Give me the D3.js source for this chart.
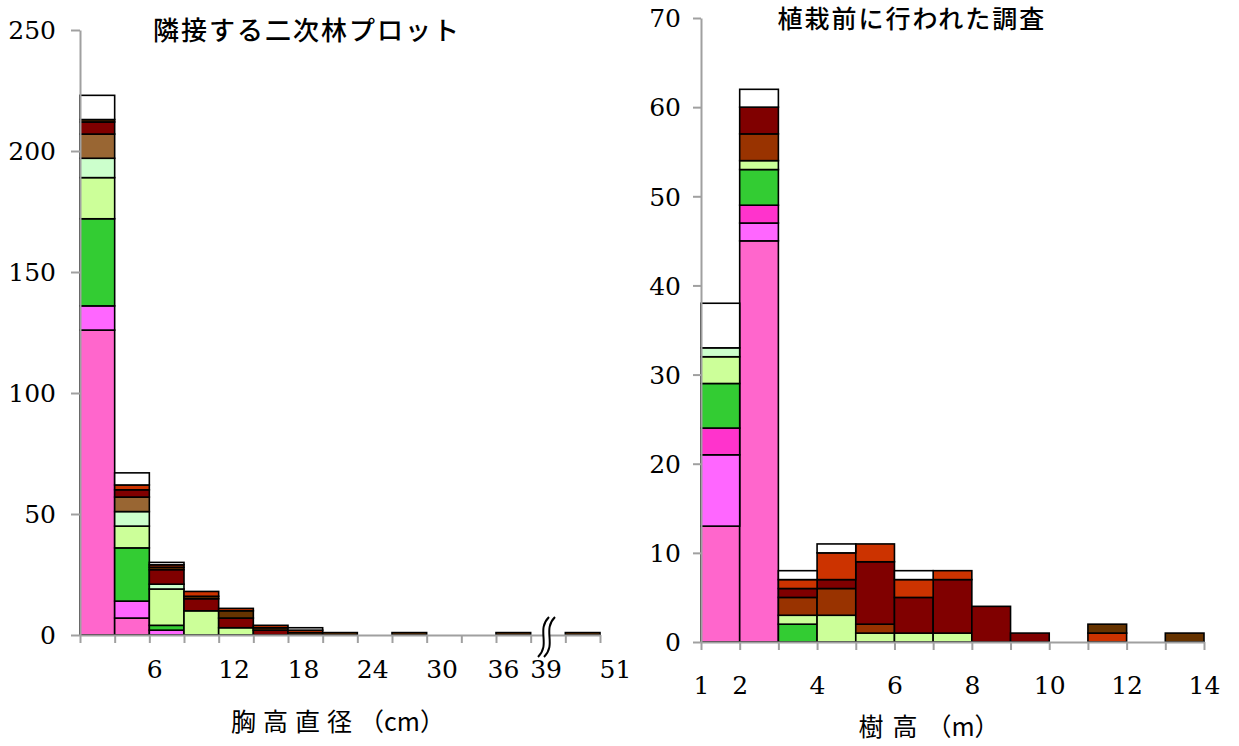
<!DOCTYPE html>
<html>
<head>
<meta charset="utf-8">
<script src="https://cdn.jsdelivr.net/npm/d3@7/dist/d3.min.js"></script>
<style>
  html, body { margin: 0; padding: 0; background: #fff; }
  svg { display: block; }
</style>
</head>
<body>
<svg id="chart" width="1239" height="746"></svg>
<script>
// ---------- DATA: left panel (DBH, cm) ----------
const dbhBinStart = [0, 3, 6, 9, 12, 15, 18, 21, 24, 27, 30, 33, 36, 39, 48];
const dbhBinEnd   = [3, 6, 9, 12, 15, 18, 21, 24, 27, 30, 33, 36, 39, 48, 51];
const dbhTickLabels = [6, 12, 18, 24, 30, 36, 39, 51];
const dbhYTicks = [0, 50, 100, 150, 200, 250];
const dbhPink        = [126, 7, 0, 0, 0, 0, 0, 0, 0, 0, 0, 0, 0, 0, 0];
const dbhMagenta     = [10, 7, 2, 0, 0, 0, 0, 0, 0, 0, 0, 0, 0, 0, 0];
const dbhGreen       = [36, 22, 2, 0, 0, 0, 0, 0, 0, 0, 0, 0, 0, 0, 0];
const dbhYellowGreen = [17, 9, 15, 10, 3, 0, 0, 0, 0, 0, 0, 0, 0, 0, 0];
const dbhPaleGreen   = [8, 6, 2, 0, 0, 0, 0, 0, 0, 0, 0, 0, 0, 0, 0];
const dbhBrown       = [10, 6, 0, 0, 0, 0, 0, 0, 0, 0, 0, 0, 0, 0, 0];
const dbhDarkRed     = [5, 3, 6, 5, 4, 2, 0, 0, 0, 0, 0, 0, 0, 0, 0];
const dbhDarkBrown   = [1, 0, 1, 1, 3, 1, 1, 1, 0, 1, 0, 0, 1, 0, 1];
const dbhOrangeRed   = [0, 2, 1, 2, 1, 1, 1, 0, 0, 0, 0, 0, 0, 0, 0];
const dbhWhite       = [10, 5, 1, 0, 0, 0, 1, 0, 0, 0, 0, 0, 0, 0, 0];

// ---------- DATA: right panel (tree height, m) ----------
const htBinStart = [1, 2, 3, 4, 5, 6, 7, 8, 9, 10, 11, 12, 13];
const htBinEnd   = [2, 3, 4, 5, 6, 7, 8, 9, 10, 11, 12, 13, 14];
const htTickLabels = [1, 2, 4, 6, 8, 10, 12, 14];
const htYTicks = [0, 10, 20, 30, 40, 50, 60, 70];
const htPink        = [13, 45, 0, 0, 0, 0, 0, 0, 0, 0, 0, 0, 0];
const htMagenta     = [8, 2, 0, 0, 0, 0, 0, 0, 0, 0, 0, 0, 0];
const htHotPink     = [3, 2, 0, 0, 0, 0, 0, 0, 0, 0, 0, 0, 0];
const htGreen       = [5, 4, 2, 0, 0, 0, 0, 0, 0, 0, 0, 0, 0];
const htYellowGreen = [3, 1, 1, 3, 1, 1, 1, 0, 0, 0, 0, 0, 0];
const htPaleGreen   = [1, 0, 0, 0, 0, 0, 0, 0, 0, 0, 0, 0, 0];
const htRust        = [0, 3, 2, 3, 1, 0, 0, 0, 0, 0, 0, 0, 0];
const htDarkRed     = [0, 3, 1, 1, 7, 4, 6, 4, 1, 0, 0, 0, 0];
const htOrangeRed   = [0, 0, 1, 3, 2, 2, 1, 0, 0, 0, 1, 0, 0];
const htDarkBrown   = [0, 0, 0, 0, 0, 0, 0, 0, 0, 0, 1, 0, 1];
const htWhite       = [5, 2, 1, 1, 0, 1, 0, 0, 0, 0, 0, 0, 0];

const colors = {
  pink: "#FF66CC", magenta: "#FF66FF", hotPink: "#FF33CC", green: "#33CC33",
  yellowGreen: "#CCFF99", paleGreen: "#CCFFCC", brown: "#996633", rust: "#993300",
  darkRed: "#800000", darkBrown: "#663300", orangeRed: "#CC3300", white: "#FFFFFF"
};

// ---------- build tables ----------
const leftSeries = {
  pink: dbhPink, magenta: dbhMagenta, green: dbhGreen, yellowGreen: dbhYellowGreen,
  paleGreen: dbhPaleGreen, brown: dbhBrown, darkRed: dbhDarkRed,
  darkBrown: dbhDarkBrown, orangeRed: dbhOrangeRed, white: dbhWhite
};
const rightSeries = {
  pink: htPink, magenta: htMagenta, hotPink: htHotPink, green: htGreen,
  yellowGreen: htYellowGreen, paleGreen: htPaleGreen, rust: htRust,
  darkRed: htDarkRed, orangeRed: htOrangeRed, darkBrown: htDarkBrown, white: htWhite
};
function makeRows(starts, ends, series) {
  return starts.map((s, i) => {
    const r = { start: s, end: ends[i] };
    Object.keys(series).forEach(k => r[k] = series[k][i]);
    return r;
  });
}
const leftRows = makeRows(dbhBinStart, dbhBinEnd, leftSeries);
const rightRows = makeRows(htBinStart, htBinEnd, rightSeries);

const svg = d3.select("#chart");
const NUM_FONT = "'DejaVu Serif', 'Liberation Serif', serif";
const JP_FONT = "'Noto Sans CJK JP', 'Noto Sans CJK SC', sans-serif";
const AXIS_GRAY = "#a0a0a0";

function drawStack(g, rows, keys, x, y) {
  const stacked = d3.stack().keys(keys)(rows);
  stacked.forEach(layer => {
    g.append("g").selectAll("rect")
      .data(layer.filter(d => d[1] - d[0] > 0))
      .join("rect")
      .attr("x", d => x(d.data.start))
      .attr("width", d => x(d.data.end) - x(d.data.start))
      .attr("y", d => y(d[1]))
      .attr("height", d => y(d[0]) - y(d[1]))
      .attr("fill", colors[layer.key])
      .attr("stroke", "#000")
      .attr("stroke-width", 1.6);
  });
}

function styleAxis(ax) {
  ax.attr("font-size", null).attr("font-family", null);
  ax.select(".domain").attr("stroke", AXIS_GRAY).attr("stroke-width", 2);
  ax.selectAll(".tick line").attr("stroke", AXIS_GRAY).attr("stroke-width", 2);
  ax.selectAll("text").attr("fill", "#000")
    .attr("font-family", NUM_FONT).attr("font-size", 25)
    .style("font-family", NUM_FONT).style("font-size", "25px");
}

// ---------- LEFT PANEL ----------
const L = { x0: 80, x1: 600, y0: 635, y1: 30 };
const slotW = (L.x1 - L.x0) / dbhBinStart.length;
const xL = d3.scaleLinear()
  .domain([0, 39, 48, 51])
  .range([L.x0, L.x0 + 13 * slotW, L.x0 + 14 * slotW, L.x1]);
const yL = d3.scaleLinear().domain([0, 250]).range([L.y0, L.y1]);

drawStack(svg.append("g"), leftRows, Object.keys(leftSeries), xL, yL);

const dbhEdges = dbhBinStart.concat([dbhBinEnd[dbhBinEnd.length - 1]]);
const axLx = svg.append("g").attr("transform", `translate(0,${L.y0})`)
  .call(d3.axisBottom(xL).tickValues(dbhEdges).tickSize(8).tickSizeOuter(0)
    .tickFormat(d => dbhTickLabels.includes(d) ? d : ""));
styleAxis(axLx);
axLx.selectAll("text").attr("y", 43).attr("dy", 0).attr("text-anchor", "start")
  .attr("dx", d => d === 36 ? -9 : (d === 6 ? -3 : -1));

const axLy = svg.append("g").attr("transform", `translate(${L.x0},0)`)
  .call(d3.axisLeft(yL).tickValues(dbhYTicks).tickSize(9).tickSizeOuter(0));
styleAxis(axLy);
axLy.selectAll("text").attr("x", -24).attr("dy", "0.35em");

// axis break symbol
const bx = xL(43.5);
const wave = (x) => `M${x + 6},617 C${x - 7},630 ${x + 8},644 ${x - 5},657`;
svg.append("path")
  .attr("d", `M${bx + 1},617 C${bx - 12},630 ${bx + 3},644 ${bx - 10},657 L${bx - 4},657 C${bx + 9},644 ${bx - 6},630 ${bx + 7},617 Z`)
  .attr("fill", "#fff");
svg.append("path").attr("d", wave(bx - 5)).attr("fill", "none").attr("stroke", "#000").attr("stroke-width", 2);
svg.append("path").attr("d", wave(bx + 1)).attr("fill", "none").attr("stroke", "#000").attr("stroke-width", 2);

svg.append("text").attr("x", 307).attr("y", 40).attr("text-anchor", "middle")
  .style("font-family", JP_FONT).style("font-size", "26px").style("font-weight", 500)
  .style("letter-spacing", "2px").text("隣接する二次林プロット");

const tL = svg.append("text").attr("x", 338).attr("y", 731).attr("text-anchor", "middle")
  .style("font-family", JP_FONT).style("font-size", "25px");
tL.append("tspan").style("letter-spacing", "7px").text("胸高直径");
tL.append("tspan").text("（cm）");

// ---------- RIGHT PANEL ----------
const R = { x0: 701, x1: 1204, y0: 642, y1: 18 };
const xR = d3.scaleLinear().domain([1, 14]).range([R.x0, R.x1]);
const yR = d3.scaleLinear().domain([0, 70]).range([R.y0, R.y1]);

drawStack(svg.append("g"), rightRows, Object.keys(rightSeries), xR, yR);

const htEdges = htBinStart.concat([htBinEnd[htBinEnd.length - 1]]);
const axRx = svg.append("g").attr("transform", `translate(0,${R.y0})`)
  .call(d3.axisBottom(xR).tickValues(htEdges).tickSize(8).tickSizeOuter(0)
    .tickFormat(d => htTickLabels.includes(d) ? d : ""));
styleAxis(axRx);
axRx.selectAll("text").attr("y", 52).attr("dy", 0);

const axRy = svg.append("g").attr("transform", `translate(${R.x0},0)`)
  .call(d3.axisLeft(yR).tickValues(htYTicks).tickSize(8).tickSizeOuter(0));
styleAxis(axRy);
axRy.selectAll("text").attr("x", -20).attr("dy", "0.35em");

svg.append("text").attr("x", 912).attr("y", 28).attr("text-anchor", "middle")
  .style("font-family", JP_FONT).style("font-size", "25px").style("font-weight", 500)
  .style("letter-spacing", "2px").text("植栽前に行われた調査");

const tR = svg.append("text").attr("x", 929).attr("y", 736).attr("text-anchor", "middle")
  .style("font-family", JP_FONT).style("font-size", "25px");
tR.append("tspan").style("letter-spacing", "9px").text("樹高");
tR.append("tspan").text("（m）");
</script>
</body>
</html>
